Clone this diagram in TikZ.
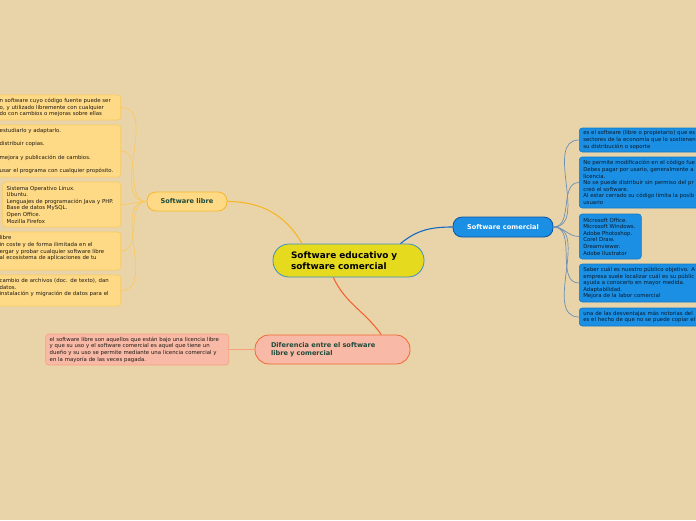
\documentclass[tikz,border=0pt]{standalone}
\usepackage{fontspec}
\setmainfont{DejaVu Sans}
\definecolor{paper}{HTML}{E9D4A9}
\definecolor{hubfill}{HTML}{E6DA1E}
\definecolor{hubline}{HTML}{3C8FC8}
\definecolor{librefill}{HTML}{FFDA86}
\definecolor{libreline}{HTML}{F6B62A}
\definecolor{libreleaf}{HTML}{FBC960}
\definecolor{comfill}{HTML}{1A8FE3}
\definecolor{comline}{HTML}{1568C4}
\definecolor{comleaf}{HTML}{6B8FB5}
\definecolor{diffill}{HTML}{F8BAA6}
\definecolor{difline}{HTML}{F26532}
\definecolor{difleaf}{HTML}{F6A07E}
\definecolor{titlegreen}{HTML}{1E4A3A}
\definecolor{leaftext}{HTML}{1E1A14}
\definecolor{comtext}{HTML}{0A1A2C}

\begin{document}
\begin{tikzpicture}[x=1pt,y=1pt,
  topic/.style={draw,line width=0.8pt,rounded corners=9pt,inner sep=0pt,
    font=\fontsize{6.6}{7.8}\selectfont\bfseries,align=left},
  leaf/.style={rounded corners=3pt,line width=0.6pt,inner xsep=4pt,inner ysep=2pt,
    font=\fontsize{5.4}{6.6}\selectfont,align=left},
  leafL/.style={leaf,draw=libreleaf,fill=librefill,text=leaftext},
  leafR/.style={leaf,draw=comfill!85!black,fill=comfill,text=comtext},
  leafD/.style={leaf,draw=difleaf,fill=diffill,text=leaftext}]
\useasboundingbox (0,0) rectangle (696,-520);
\fill[paper] (0,0) rectangle (696,-520);
\clip (0,0) rectangle (696,-520);

% main topics
\node[topic,draw=hubline,fill=hubfill,rounded corners=16pt,inner xsep=18pt,text width=115pt,minimum height=33pt,
  font=\fontsize{8.9}{11}\selectfont\bfseries] (central) at (348.5,-260.5)
  {Software educativo y\\software comercial};
\node[topic,draw=libreline,fill=librefill,text=titlegreen,align=center,minimum width=80pt,minimum height=19pt]
  (libre) at (187,-201.5) {Software libre};
\node[topic,draw=comline!80!black,fill=comfill,text=white,align=center,minimum width=100pt,minimum height=20pt]
  (comercial) at (503,-227) {Software comercial};
\node[topic,draw=difline,fill=diffill,text=titlegreen,rounded corners=14pt,inner xsep=16pt,text width=123pt,minimum height=29pt]
  (diferencia) at (332.5,-349.5) {Diferencia entre el software\\libre y comercial};

% leaves of Software libre
\foreach \n/\y/\h/\w/\t in
  {lA/107.5/25/117/{n software cuyo código fuente puede ser\\o, y utilizado libremente con cualquier\\do con cambios o mejoras sobre ellas},
   lB/151/52/117/{estudiarlo y adaptarlo.\\[6.7pt]distribuir copias.\\[6.7pt]mejora y publicación de cambios.\\[6.7pt]usar el programa con cualquier propósito.},
   lC/204.5/45/110/{Sistema Operativo Linux.\\Ubuntu.\\Lenguajes de programación Java y PHP.\\Base de datos MySQL.\\Open Office.\\Mozilla Firefox},
   lD/251/38/117/{libre\\in coste y de forma ilimitada en el\\ergar y probar cualquier software libre\\al ecosistema de aplicaciones de tu\\~},
   lE/290.5/31/117/{cambio de archivos (doc. de texto), dan\\datos.\\instalación y migración de datos para el\\~}}
  \node[leafL,minimum height=\h pt,text width=\w pt,anchor=east] (\n) at (121,-\y) {\t};

% leaves of Software comercial
\foreach \n/\y/\h/\w/\t in
  {rA/140/24/140/{es el software (libre o propietario) que es com\\sectores de la economía que lo sostienen a tr\\su distribución o soporte},
   rB/182.5/51/140/{No permite modificación en el código fue\\Debes pagar por usario, generalmente a\\licencia.\\No se puede distribuir sin permiso del pr\\creó el software.\\Al estar cerrado su código limita la posib\\usuario},
   rC/236.5/45/54/{Microsoft Office.\\Microsoft Windows.\\Adobe Photoshop.\\Corel Draw.\\Dreamviewer.\\Adobe Ilustrator},
   rD/283/38/140/{Saber cuál es nuestro público objetivo. A\\empresa suele localizar cuál es su públic\\ayuda a conocerlo en mayor medida.\\Adaptabilidad.\\Mejora de la labor comercial},
   rE/317/18/140/{una de las desventajas más notorias del\\es el hecho de que no se puede copiar el}}
  \node[leafR,minimum height=\h pt,text width=\w pt,anchor=west] (\n) at (579,-\y) {\t};

% leaf of Diferencia
\node[leafD,minimum height=31pt,text width=175pt,anchor=east] (dA) at (229,-349.5)
  {el software libre son aquellos que están bajo una licencia libre\\y que su uso y el software comercial es aquel que tiene un\\dueño y su uso se permite mediante una licencia comercial y\\en la mayoría de las veces pagada.};

% connectors
\draw[libreline,line width=1.1pt] (libre.east) to[out=0,in=120] (central.160);
\draw[comline,line width=1.1pt] (central.18) to[out=40,in=180] (comercial.west);
\draw[difline,line width=1.1pt] (central.228) to[out=-65,in=125] (diferencia.17);
\foreach \n in {lA,lB,lC,lD,lE}
  \draw[libreleaf,line width=0.7pt] (libre.west) to[out=180,in=0] (\n.east);
\foreach \n in {rA,rB,rC,rD,rE}
  \draw[comleaf,line width=0.7pt] (comercial.east) to[out=0,in=180] (\n.west);
\draw[difleaf,line width=0.7pt] (diferencia.west) -- (dA.east);
\end{tikzpicture}
\end{document}
